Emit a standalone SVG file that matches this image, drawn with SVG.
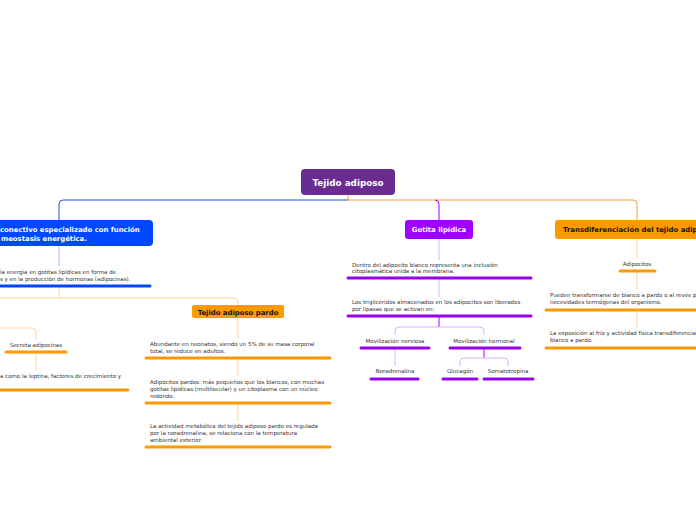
<svg xmlns="http://www.w3.org/2000/svg" width="696" height="520" viewBox="0 0 696 520">
<style>
.t{font-family:"DejaVu Sans",Verdana,sans-serif;font-size:5.5px;fill:#333}
.tb{font-family:"DejaVu Sans",Verdana,sans-serif;font-size:6.9px;font-weight:bold}
.c{text-anchor:middle}
.ln{fill:none;stroke-width:1}
.ul{fill:none;stroke-width:3;stroke-linecap:round}
.uo{stroke:#ff9900}.up{stroke:#9a00f0}.ub{stroke:#0048ff}
.lo{stroke:#ffd699}.lp{stroke:#dcaeff}.lb{stroke:#9db8ff}
</style>
<rect width="696" height="520" fill="#ffffff"/>
<g id="connectors">
<path class="ln" stroke="#f09a50" d="M348,195 V200"/>
<path class="ln" stroke="#1f55e0" d="M348,200 H63 Q59,200 59,204 V220"/>
<path class="ln" stroke="#f0a040" d="M348,200 H633 Q637,200 637,204 V220"/>
<path class="ln" stroke="#a000ff" d="M435,200 Q439,200 439,204 V220"/>
<path class="ln lb" d="M59,246 V266"/>
<path class="ln lo" d="M59,287 V298 M0,298 H234 Q238,298 238,302 V305"/>
<path class="ln lo" d="M0,328 H32 Q36,328 36,332 V340"/>
<path class="ln lo" d="M36,353 V370"/>
<path class="ln lo" d="M238,318 V338 M238,359 V376 M238,404 V421"/>
<path class="ln lp" d="M439,239 V260 M439,279 V297"/>
<path class="ln" stroke="#a000ff" d="M439,317 V327"/>
<path class="ln lp" d="M439,327 H399 Q395,327 395,331 V335 M439,327 H480 Q484,327 484,331 V335"/>
<path class="ln lp" d="M395,349 V366"/>
<path class="ln" stroke="#a000ff" d="M484,349 V358"/>
<path class="ln lp" d="M484,358 H464 Q460,358 460,362 V366 M484,358 H504 Q508,358 508,362 V366"/>
<path class="ln lo" d="M637,239 V258 M637,272 V290 M637,311 V328"/>
</g>
<g id="root">
<rect x="301" y="169" width="94" height="26" rx="4" fill="#6a2c91"/>
<text x="348" y="186" class="c" font-family="DejaVu Sans,Verdana,sans-serif" font-size="8.8" font-weight="bold" fill="#ffffff">Tejido adiposo</text>
</g>
<g id="tejido-conectivo">
<rect x="-10" y="220" width="163" height="26" rx="4" fill="#0048ff"/>
<text x="0" y="232" class="tb" fill="#ffffff">conectivo especializado con función</text>
<text x="1" y="241" class="tb" fill="#ffffff">meostasis energética.</text>
</g>
<g id="energia">
<text x="0" y="274" class="t">la energía en gotitas lipídicas en forma de</text>
<text x="0" y="281" class="t">s y en la producción de hormonas (adipocinas).</text>
<path class="ul ub" d="M0,286 H150"/>
</g>
<g id="secreta">
<text x="36" y="347" class="t c">Secreta adipocinas</text>
<path class="ul uo" d="M6,352 H66"/>
</g>
<g id="leptina">
<text x="0" y="378" class="t">a como la leptina, factores de crecimiento y</text>
<path class="ul uo" d="M0,390 H128"/>
</g>
<g id="pardo">
<rect x="192" y="305" width="92" height="13" rx="2" fill="#ff9900"/>
<text x="238" y="314.5" class="tb c" fill="#111">Tejido adiposo pardo</text>
</g>
<g id="pardo-1">
<text x="150" y="346" class="t">Abundante en neonatos, siendo un 5% de su masa corporal</text>
<text x="150" y="353" class="t">total, se reduce en adultos.</text>
<path class="ul uo" d="M146,358 H330"/>
</g>
<g id="pardo-2">
<text x="150" y="384" class="t">Adipocitos pardos: más pequeños que los blancos, con muchas</text>
<text x="150" y="391" class="t">gotitas lipídicas (multilocular) y un citoplasma con un núcleo</text>
<text x="150" y="398" class="t">redondo.</text>
<path class="ul uo" d="M146,403 H330"/>
</g>
<g id="pardo-3">
<text x="150" y="428" class="t">La actividad metabólica del tejido adiposo pardo es regulada</text>
<text x="150" y="435" class="t">por la noradrenalina, se relaciona con la temperatura</text>
<text x="150" y="442" class="t">ambiental exterior.</text>
<path class="ul uo" d="M146,447 H330"/>
</g>
<g id="gotita">
<rect x="405" y="220" width="68" height="19" rx="3" fill="#a000ff"/>
<text x="439" y="232" class="tb c" fill="#ffffff">Gotita lipídica</text>
</g>
<g id="gotita-1">
<text x="352" y="267" class="t">Dentro del adipocito blanco representa una inclusión</text>
<text x="352" y="273" class="t">citoplasmática unida a la membrana.</text>
<path class="ul up" d="M348,278 H531"/>
</g>
<g id="gotita-2">
<text x="352" y="304" class="t">Los triglicéridos almacenados en los adipocitos son liberados</text>
<text x="352" y="311" class="t">por lipasas que se activan en:</text>
<path class="ul up" d="M348,316 H531"/>
</g>
<g id="nerviosa">
<text x="395" y="343" class="t c">Movilización nerviosa</text>
<path class="ul up" d="M361,348 H429"/>
</g>
<g id="hormonal">
<text x="484" y="343" class="t c">Movilización hormonal</text>
<path class="ul up" d="M450,348 H520"/>
</g>
<g id="noradrenalina">
<text x="395" y="373" class="t c">Noradrenalina</text>
<path class="ul up" d="M371,379 H418"/>
</g>
<g id="glucagon">
<text x="460" y="373" class="t c">Glucagón</text>
<path class="ul up" d="M443,379 H477"/>
</g>
<g id="somatotropina">
<text x="508" y="373" class="t c">Somatotropina</text>
<path class="ul up" d="M484,379 H533"/>
</g>
<g id="transdiferenciacion">
<rect x="555" y="220" width="160" height="19" rx="3" fill="#ff9900"/>
<text x="563" y="232" class="tb" fill="#111">Transdiferenciación del tejido adiposo</text>
</g>
<g id="adipocitos">
<text x="637" y="266" class="t c">Adipocitos</text>
<path class="ul uo" d="M620,271 H655"/>
</g>
<g id="trans-1">
<text x="550" y="297" class="t">Pueden transformarse de blanco a pardo o al revés p</text>
<text x="550" y="304" class="t">necesidades termógenas del organismo.</text>
<path class="ul uo" d="M546,310 H700"/>
</g>
<g id="trans-2">
<text x="550" y="335" class="t">La exposición al frío y actividad física transdiferencia</text>
<text x="550" y="342" class="t">blanco a pardo.</text>
<path class="ul uo" d="M546,348 H700"/>
</g>
</svg>
